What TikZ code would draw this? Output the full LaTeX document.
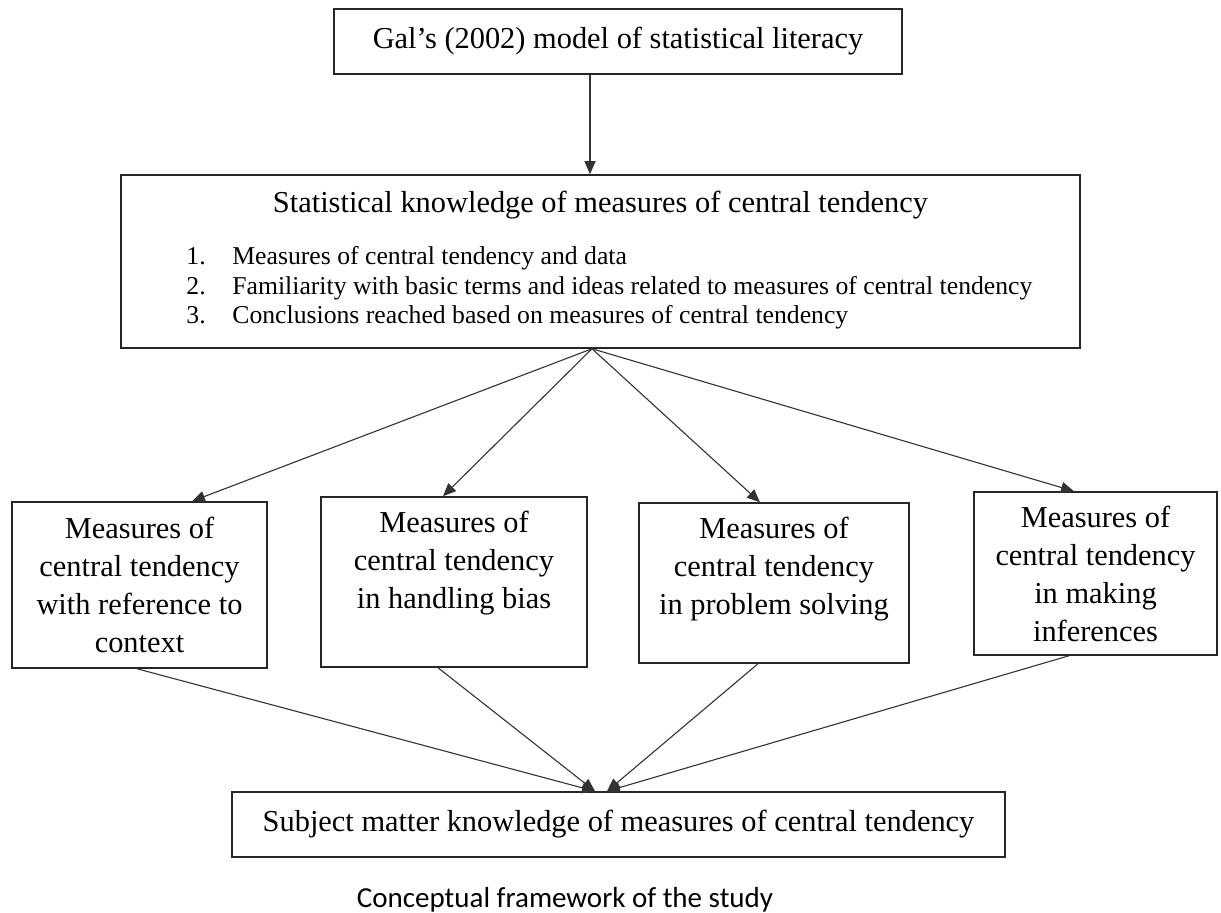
\documentclass[tikz,border=0pt]{standalone}
\usepackage{fontspec}
\setmainfont{Liberation Serif}
\newfontfamily\capfont{Carlito}
\usetikzlibrary{arrows.meta,calc}
\newcommand\boxfnt{\fontsize{15.2}{19}\selectfont}
\newcommand\itemfnt{\fontsize{12.85}{15}\selectfont}
\begin{document}
\begin{tikzpicture}[x=0.5pt,y=-0.5pt,
  box/.style={draw=black!85, line width=0.75pt, inner sep=0pt, align=center, font=\boxfnt},
  txt/.style={inner sep=0pt, font=\boxfnt},
  itm/.style={inner sep=0pt, anchor=base west, font=\itemfnt},
  conn/.style={draw=black!80, line width=0.55pt, -{Triangle[length=6.5pt,width=5.5pt]}},
  captxt/.style={inner sep=0pt, anchor=base, font=\capfont\fontsize{14.5}{17}\selectfont}]
\useasboundingbox (0,0) rectangle (1221,913);
\fill[white] (0,0) rectangle (1221,913);

\node[box, minimum width=284pt, minimum height=32.5pt] (gal) at (618,41.5) {Gal's (2002) model of statistical literacy};

\node[box, minimum width=479.5pt, minimum height=86.5pt] (stat) at (600.5,261.5) {};
\node[txt, anchor=base] (stattitle) at (600.5,213) {Statistical knowledge of measures of central tendency};
\node[itm] (i1) at (186,265) {\makebox[23pt][l]{1.}Measures of central tendency and data};
\node[itm] (i2) at (186,295) {\makebox[23pt][l]{2.}Familiarity with basic terms and ideas related to measures of central tendency};
\node[itm] (i3) at (186,324) {\makebox[23pt][l]{3.}Conclusions reached based on measures of central tendency};

\node[box, minimum width=127.5pt, minimum height=83pt] (b1) at (139.5,585) {Measures of\\central tendency\\with reference to\\context};
\node[box, minimum width=133pt, minimum height=85pt] (b2) at (454,582) {Measures of\\central tendency\\in handling bias\rule[-22pt]{0pt}{22pt}};
\node[box, minimum width=135pt, minimum height=80pt] (b3) at (774,583) {Measures of\\central tendency\\in problem solving\rule[-17pt]{0pt}{17pt}};
\node[box, minimum width=121.5pt, minimum height=81.5pt] (b4) at (1095.5,573.5) {Measures of\\central tendency\\in making\\inferences};

\node[box, minimum width=386.5pt, minimum height=32.5pt] (smk) at (618.5,824.5) {Subject matter knowledge of measures of central tendency};

\node[captxt] (caption) at (565,907) {Conceptual framework of the study};

\coordinate (ga) at (590,0);
\draw[conn] (ga |- gal.south) -- (ga |- stat.north);
\coordinate (src) at ($(stat.south)+(-8.5,0)$);
\draw[conn] (src) -- ($(b1.north)+(52.5,0)$);
\draw[conn] (src) -- ($(b2.north)+(-11,0)$);
\draw[conn] (src) -- ($(b3.north)+(-14,0)$);
\draw[conn] (src) -- ($(b4.north)+(-21.5,0)$);
\draw[conn] ($(b1.south)+(-2.5,0)$) -- ($(smk.north)+(-23.5,0)$);
\draw[conn] ($(b2.south)+(-16,0)$) -- ($(smk.north)+(-23.5,0)$);
\draw[conn] ($(b3.south)+(-16,0)$) -- ($(smk.north)+(-11.5,0)$);
\draw[conn] ($(b4.south)+(-26.5,0)$) -- ($(smk.north)+(-11.5,0)$);
\end{tikzpicture}
\end{document}
